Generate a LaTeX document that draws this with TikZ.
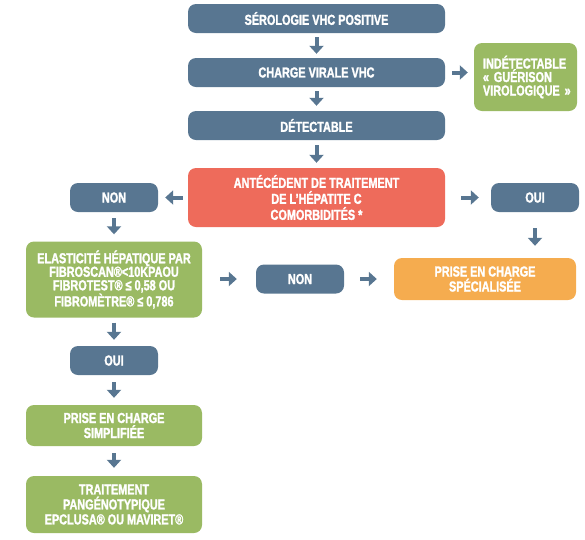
\documentclass[tikz,border=0pt]{standalone}
\usepackage{fontspec}
\setmainfont{Liberation Sans}[FakeStretch=0.75, BoldFeatures={FakeBold=1.6}]
\usepackage{xcolor}
\usepackage{tikz}
\usetikzlibrary{positioning, arrows.meta}

\definecolor{slate}{HTML}{587691}
\definecolor{alertred}{HTML}{EE6B5B}
\definecolor{okgreen}{HTML}{9ABA63}
\definecolor{specorange}{HTML}{F5AC4F}

\begin{document}
\begin{tikzpicture}[
  x=1pt, y=-1pt,
  box/.style={rounded corners=8pt, text=white, align=center, inner sep=0pt,
    font=\bfseries\fontsize{14.5}{15}\selectfont},
  widebox/.style={box, fill=slate, minimum width=257pt, minimum height=29pt},
  smallbox/.style={box, fill=slate, minimum width=88pt, minimum height=29pt},
  greenbox/.style={box, fill=okgreen, minimum width=176pt},
  arr/.style={-{Triangle[length=8pt,width=14pt]}, line width=4pt, draw=slate}
]
\useasboundingbox (0,0) rectangle (585,539);

% centre column
\node[widebox] (sero)   at (316.5,18.5) {SÉROLOGIE VHC POSITIVE};
\node[widebox] (charge) at (316.5,72.5) {CHARGE VIRALE VHC};
\node[widebox] (detect) at (316.5,125.5) {DÉTECTABLE};
\node[box, fill=alertred, minimum width=257pt, minimum height=59pt,
  font=\bfseries\fontsize{14.5}{16}\selectfont] (antec) at (316.5,197.5)
  {ANTÉCÉDENT DE TRAITEMENT\\DE L’HÉPATITE C\\COMORBIDITÉS *};

% right side
\node[box, fill=okgreen, minimum width=103pt, minimum height=68pt,
  align=left, text width=85pt, font=\bfseries\fontsize{14.5}{13.5}\selectfont]
  (indet) at (525.5,77) {INDÉTECTABLE\\«~GUÉRISON\\VIROLOGIQUE~»};
\node[smallbox] (oui) at (535,197.5) {OUI};
\node[box, fill=specorange, minimum width=182pt, minimum height=42pt]
  (spec) at (485,279) {PRISE EN CHARGE\\SPÉCIALISÉE};

% left column
\node[smallbox] (non) at (114,197.5) {NON};
\node[greenbox, minimum height=76pt, font=\bfseries\fontsize{14.5}{13.5}\selectfont]
  (elast) at (114,279.5)
  {ELASTICITÉ HÉPATIQUE PAR\\FIBROSCAN®<10KPAOU\\FIBROTEST® ≤ 0,58 OU\\FIBROMÈTRE® ≤ 0,786};
\node[smallbox] (nonb) at (300,279) {NON};
\node[smallbox] (ouib) at (114,360.5) {OUI};
\node[greenbox, minimum height=41pt] (simpl) at (114,425.5)
  {PRISE EN CHARGE\\SIMPLIFIÉE};
\node[greenbox, minimum height=57pt] (trait) at (114,504.5)
  {TRAITEMENT\\PANGÉNOTYPIQUE\\EPCLUSA® OU MAVIRET®};

% arrows
\draw[arr, shorten <=4pt, shorten >=4pt] (sero) -- (charge);
\draw[arr, shorten <=4pt, shorten >=5pt] (charge) -- (detect);
\draw[arr, shorten <=7pt, shorten >=6pt] (charge) -- (charge -| indet.west);
\draw[arr, shorten <=5pt, shorten >=5pt] (detect) -- (antec);
\draw[arr, shorten <=5pt, shorten >=7pt] (antec) -- (non);
\draw[arr, shorten <=16pt, shorten >=12pt] (antec) -- (oui);
\draw[arr, shorten <=16pt, shorten >=12pt] (oui) -- (oui |- spec.north);
\draw[arr, shorten <=6pt, shorten >=7pt] (non) -- (elast);
\draw[arr, shorten <=18pt, shorten >=19pt] (elast.east |- nonb) -- (nonb);
\draw[arr, shorten <=16pt, shorten >=17pt] (nonb) -- (spec);
\draw[arr, shorten <=5pt, shorten >=6pt] (elast) -- (ouib);
\draw[arr, shorten <=7pt, shorten >=7pt] (ouib) -- (simpl);
\draw[arr, shorten <=7pt, shorten >=8pt] (simpl) -- (trait);

\end{tikzpicture}
\end{document}
